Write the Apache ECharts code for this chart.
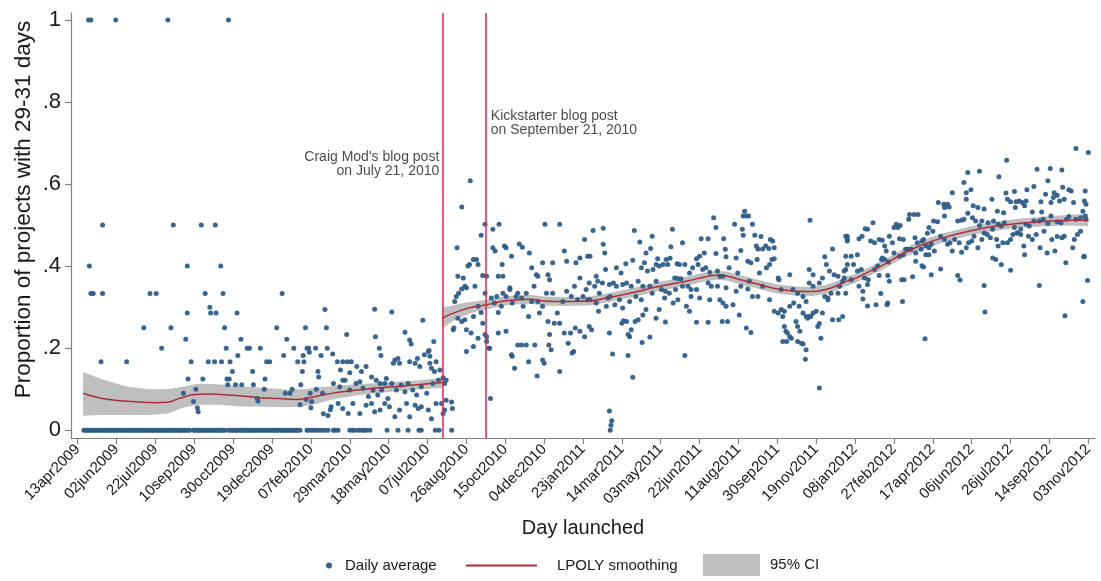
<!DOCTYPE html>
<html><head><meta charset="utf-8">
<script src="https://cdn.jsdelivr.net/npm/echarts@6/dist/echarts.min.js"></script>
<style>html,body{margin:0;padding:0;background:#fff}#c{width:1101px;height:581px}</style>
</head><body><div id="c"></div>
<script>
// x values are days since 13apr2009
const tickDays = [0,50,100,150,200,250,300,350,400,450,500,550,600,650,700,750,800,850,900,950,1000,1050,1100,1150,1200,1250,1300];
const tickLabels = ['13apr2009','02jun2009','22jul2009','10sep2009','30oct2009','19dec2009','07feb2010','29mar2010','18may2010','07jul2010','26aug2010','15oct2010','04dec2010','23jan2011','14mar2011','03may2011','22jun2011','11aug2011','30sep2011','19nov2011','08jan2012','27feb2012','17apr2012','06jun2012','26jul2012','14sep2012','03nov2012'];
const yTicks = [0,0.2,0.4,0.6,0.8,1];
const yTickLabels = ['0','.2','.4','.6','.8','1'];
const craigDay = 469;
const kickDay = 525;

const onesDays = [14,17,49,116,194];
const zeroDays = [8,10,12,15,17,19,22,24,27,29,31,34,36,38,41,43,46,48,50,53,55,58,60,62,65,67,70,72,74,77,79,82,84,86,89,91,94,96,98,101,103,106,108,110,113,115,118,120,122,125,127,130,132,134,137,139,142,144,149,151,154,156,158,161,163,166,168,170,173,175,178,180,182,185,187,189,194,197,199,202,204,206,209,211,214,216,218,221,223,226,228,230,233,235,238,240,242,245,247,250,252,254,257,259,262,264,266,269,271,274,276,278,281,283,286,295,297,301,304,307,311,314,318,322,329,331,335,350,354,356,361,365,368,371,376,398,412,425,439,442,460,465,481,685];

const dailyEarly = [[15,.4],[17,.333],[20,.333],[30,.167],[32,.5],[32,.333],[63,.167],[85,.25],[93,.333],[101,.333],[108,.2],[120,.25],[123,.5],[136,.09],[139,.222],[141,.4],[141,.286],[142,.125],[146,.167],[149,.07],[152,.1],[154,.055],[155,.045],[159,.5],[161,.125],[164,.333],[168,.167],[170,.3],[171,.286],[176,.167],[177,.5],[178,.286],[184,.4],[185,.167],[187,.333],[189,.25],[191,.2],[192,.125],[193,.111],[195,.125],[196,.167],[199,.143],[203,.111],[205,.286],[206,.182],[210,.222],[211,.111],[218,.2],[221,.2],[225,.143],[226,.111],[231,.077],[232,.071],[235,.2],[240,.1],[241,.125],[243,.167],[247,.167],[256,.25],[263,.333],[265,.182],[267,.09],[269,.222],[273,.09],[276,.1],[278,.2],[283,.167],[286,.062],[287,.111],[289,.143],[290,.182],[291,.167],[293,.25],[294,.075],[295,.2],[297,.2],[298,.19],[299,.09],[300,.055],[301,.07],[306,.2],[307,.1],[309,.143],[310,.13],[313,.182],[315,.09],[316,.04],[318,.294],[320,.25],[321,.2],[322,.036],[325,.05]];

const dailyBreak = [[346,.233],[382,.295],[404,.288],[444,.268],[383,.228],[388,.2],[390,.182],[421,.239],[427,.22],[429,.21],[458,.216],[451,.192],[453,.18],[328,.186],[334,.167],[341,.167],[347,.167],[352,.167],[338,.147],[341,.122],[350,.14],[359,.155],[365,.143],[371,.155],[378,.13],[384,.122],[389,.114],[397,.126],[408,.171],[412,.175],[406,.163],[414,.163],[427,.167],[434,.163],[437,.175],[440,.155],[446,.184],[452,.194],[453,.163],[461,.167],[455,.151],[459,.143],[466,.147],[329,.114],[337,.106],[344,.122],[350,.098],[358,.114],[363,.118],[367,.102],[374,.082],[380,.098],[386,.086],[391,.098],[395,.114],[399,.077],[404,.114],[410,.098],[416,.11],[421,.094],[425,.114],[431,.098],[436,.086],[442,.106],[449,.09],[457,.114],[464,.122],[470,.128],[472,.114],[474,.122],[326,.057],[335,.065],[341,.053],[348,.041],[354,.065],[363,.041],[371,.061],[378,.065],[382,.045],[389,.049],[395,.065],[401,.057],[408,.033],[414,.049],[423,.065],[427,.033],[434,.061],[438,.053],[442,.057],[451,.049],[455,.028],[461,.065],[468,.065],[470,.041],[472,.049],[474,.073],[481,.069],[482,.053]];

const dailyPost = [[488,.445],[494,.544],[505,.608],[524,.502],[534,.49],[542,.502],[519,.475],[509,.416],[513,.416],[515,.404],[504,.404],[489,.375],[496,.371],[500,.347],[502,.4],[511,.351],[521,.377],[524,.334],[526,.375],[534,.445],[537,.437],[541,.375],[546,.404],[547,.375],[549,.449],[551,.445],[558,.424],[556,.347],[568,.454],[572,.446],[581,.432],[584,.396],[590,.379],[592,.375],[598,.408],[601,.502],[605,.379],[607,.367],[611,.408],[620,.502],[626,.437],[629,.412],[641,.408],[646,.42],[646,.371],[652,.465],[656,.424],[658,.359],
[485,.314],[487,.326],[490,.334],[494,.344],[498,.351],[489,.273],[494,.265],[498,.269],[500,.245],[506,.237],[509,.277],[515,.302],[519,.287],[521,.261],[524,.233],[526,.216],[529,.2],[532,.322],[536,.31],[539,.326],[541,.287],[545,.302],[547,.334],[551,.326],[556,.343],[559,.31],[564,.326],[566,.334],[571,.322],[573,.302],[577,.334],[580,.277],[584,.314],[587,.351],[592,.314],[594,.286],[598,.302],[603,.334],[605,.265],[607,.233],[611,.334],[617,.286],[620,.261],[624,.314],[629,.339],[635,.326],[639,.351],[643,.318],[650,.326],[654,.343],[656,.318],[658,.253],
[483,.245],[484,.249],[500,.192],[509,.204],[515,.224],[526,.228],[530,.2],[541,.237],[551,.241],[558,.184],[559,.18],[562,.151],[566,.208],[571,.208],[577,.208],[580,.167],[588,.208],[591,.132],[598,.171],[600,.163],[606,.208],[609,.196],[613,.261],[620,.143],[626,.237],[631,.212],[634,.237],[636,.188],[638,.192],[640,.249],[646,.241],[652,.228],[531,.077]];

const dailyMid = [[858,.534],[856,.522],[860,.522],[863,.522],[868,.502],[818,.518],[821,.494],[845,.502],[855,.49],[942,.512],[676,.492],[663,.487],[716,.487],[765,.49],[723,.459],[739,.473],[737,.443],[763,.447],[778,.457],[802,.467],[811,.467],[831,.467],[856,.475],[871,.475],[879,.472],[891,.465],[894,.461],[896,.445],[885,.449],[873,.449],[875,.442],[881,.442],[889,.443],[971,.442],[988,.473],[990,.465],[659,.424],[678,.432],[676,.453],[731,.432],[746,.418],[757,.416],[762,.419],[771,.406],[774,.404],[781,.404],[800,.424],[806,.432],[796,.418],[821,.431],[833,.441],[834,.423],[847,.42],[853,.438],[862,.412],[874,.416],[893,.416],[896,.418],[901,.371],[916,.379],[961,.423],[963,.404],[988,.424],[990,.404],[986,.388],
[667,.375],[669,.363],[679,.392],[693,.396],[699,.383],[705,.406],[714,.414],[725,.396],[729,.408],[733,.388],[740,.392],[744,.404],[748,.4],[753,.404],[759,.404],[768,.371],[772,.37],[776,.369],[787,.383],[791,.396],[798,.404],[804,.392],[808,.396],[813,.385],[823,.388],[826,.375],[830,.375],[838,.396],[849,.383],[864,.363],[866,.408],[877,.383],[886,.396],[890,.404],[902,.367],[941,.392],[946,.379],[958,.371],[967,.388],[973,.379],[978,.375],[984,.363],[980,.351],
[665,.351],[675,.359],[671,.334],[684,.355],[689,.359],[693,.351],[701,.355],[706,.359],[712,.351],[721,.363],[727,.351],[736,.351],[744,.363],[751,.343],[756,.339],[761,.334],[769,.343],[778,.351],[785,.351],[789,.343],[796,.343],[811,.359],[815,.351],[823,.351],[834,.347],[847,.339],[853,.351],[862,.344],[868,.326],[875,.326],[881,.351],[890,.318],[905,.343],[920,.343],[926,.334],[933,.326],[937,.314],[941,.359],[946,.351],[954,.359],[961,.326],[965,.322],[969,.334],[978,.334],[988,.334],
[659,.318],[667,.31],[670,.29],[680,.302],[682,.322],[685,.326],[691,.306],[697,.318],[701,.298],[710,.314],[718,.326],[725,.318],[731,.294],[739,.334],[748,.294],[755,.322],[766,.31],[772,.318],[783,.302],[787,.29],[789,.326],[800,.322],[813,.318],[826,.318],[830,.31],[834,.302],[843,.306],[851,.281],[896,.29],[901,.286],[905,.294],[907,.277],[909,.29],[916,.302],[921,.31],[928,.302],[933,.286],[937,.277],[941,.277],[946,.286],[950,.29],[958,.286],[965,.318],[971,.269],[979,.269],[984,.277],
[661,.245],[684,.237],[700,.261],[702,.267],[706,.265],[710,.228],[708,.233],[712,.245],[717,.265],[721,.269],[727,.281],[744,.273],[756,.264],[796,.263],[811,.263],[829,.265],[836,.265],[860,.249],[866,.238],[909,.253],[911,.241],[913,.237],[916,.228],[907,.216],[912,.216],[918,.224],[924,.265],[926,.253],[929,.241],[939,.273],[943,.277],[954,.26],[952,.253],[956,.224],[926,.216],[931,.212],[933,.21],
[688,.186],[708,.182],[726,.214],[736,.227],[781,.182],[937,.196],[936,.173],[714,.129],[954,.103],[684,.047],[687,.023],[686,.012]];

const dailyLate = [[1284,.687],[1300,.677],[1195,.658],[1234,.636],[1251,.638],[1266,.634],[1160,.631],[1145,.628],[1185,.618],[1248,.608],[1140,.604],[1230,.594],[1149,.586],[1125,.579],[1143,.579],[1296,.583],[1221,.586],[1194,.578],[1205,.582],[1245,.575],[1256,.579],[1267,.592],[1275,.586],[1278,.583],[1176,.563],[1196,.563],[1200,.557],[1207,.557],[1211,.559],[1215,.555],[1220,.559],[1143,.563],[1119,.551],[1107,.555],[1114,.551],[1115,.543],[1121,.544],[1152,.547],[1158,.543],[1166,.539],[1183,.534],[1191,.53],[1206,.543],[1218,.547],[1239,.557],[1252,.555],[1255,.567],[1260,.573],[1263,.559],[1269,.563],[1281,.555],[1295,.559],[1297,.551],[1228,.532],[1240,.532],[1252,.522],[1293,.534],
[1070,.526],[1076,.526],[1081,.526],[1069,.514],[1053,.502],[1050,.494],[1055,.494],[1058,.499],[1095,.494],[1101,.51],[1106,.508],[1100,.485],[1093,.48],[1115,.522],[1132,.51],[1137,.512],[1140,.514],[1145,.529],[1151,.518],[1155,.51],[1160,.499],[1163,.51],[1171,.506],[1178,.51],[1184,.502],[1188,.498],[1192,.506],[1205,.494],[1209,.481],[1213,.49],[1220,.502],[1224,.498],[1230,.51],[1237,.51],[1242,.514],[1248,.504],[1260,.508],[1265,.506],[1272,.514],[1275,.521],[1284,.514],[1290,.518],[1297,.514],
[1023,.506],[1016,.49],[1013,.491],[1005,.467],[1009,.473],[1003,.428],[995,.424],[990,.473],[990,.461],[998,.404],[988,.392],[1020,.461],[1025,.457],[1031,.465],[1035,.463],[1038,.449],[1040,.437],[1044,.473],[1048,.457],[1057,.467],[1062,.465],[1065,.441],[1072,.441],[1077,.469],[1080,.457],[1086,.461],[1088,.465],[1091,.449],[1095,.445],[1098,.453],[1110,.473],[1115,.465],[1119,.453],[1122,.457],[1125,.437],[1128,.465],[1134,.457],[1137,.434],[1143,.445],[1146,.457],[1150,.461],[1153,.473],[1158,.445],[1163,.465],[1166,.481],[1170,.477],[1174,.469],[1177,.49],[1182,.465],[1184,.449],[1190,.457],[1196,.457],[1200,.465],[1203,.477],[1208,.481],[1213,.477],[1217,.449],[1218,.428],[1223,.473],[1228,.465],[1233,.477],[1238,.445],[1243,.485],[1247,.432],[1253,.465],[1257,.437],[1260,.472],[1266,.469],[1269,.473],[1280,.445],[1282,.465],[1286,.477],[1290,.485],[1295,.424],[1296,.522],
[986,.371],[995,.367],[1003,.388],[1008,.392],[1012,.371],[1017,.367],[1005,.351],[1010,.339],[1016,.355],[1025,.392],[1029,.4],[1034,.416],[1035,.42],[1038,.416],[1043,.41],[1050,.432],[1057,.424],[1062,.428],[1068,.441],[1078,.432],[1085,.441],[1091,.428],[1095,.428],[1102,.437],[1078,.412],[1086,.401],[1088,.398],[1098,.379],[1110,.393],[1042,.377],[1031,.377],[1044,.363],[1060,.367],[1063,.367],[1074,.374],[1033,.333],[1042,.31],[1041,.306],[1027,.306],[1016,.303],[1010,.32],[1061,.314],[1132,.377],[1135,.366],[1166,.353],[1188,.404],[1181,.416],[1177,.42],[1200,.39],[1237,.353],[1271,.408],[1294,.423],[1299,.365],[1293,.314],[1270,.279],[1167,.288],[1090,.223]];

const smoothPre = [[7,.09],[30,.078],[60,.071],[100,.067],[115,.068],[130,.077],[150,.087],[170,.088],[200,.085],[230,.08],[260,.077],[280,.075],[300,.08],[330,.091],[370,.1],[420,.108],[469,.116]];
const smoothPost = [[469,.273],[480,.283],[496,.294],[510,.301],[526,.306],[545,.314],[560,.317],[581,.319],[600,.315],[624,.314],[658,.315],[680,.322],[701,.33],[720,.338],[744,.349],[765,.357],[787,.365],[805,.373],[821,.378],[835,.376],[850,.368],[873,.357],[898,.345],[924,.339],[945,.338],[962,.343],[975,.351],[990,.364],[1000,.37],[1012,.381],[1038,.405],[1063,.432],[1089,.454],[1115,.47],[1149,.486],[1179,.497],[1209,.504],[1243,.509],[1278,.512],[1300,.512]];
// [day, lower, upper]
const ciPre = [[7,.035,.142],[30,.037,.125],[60,.037,.108],[90,.037,.1],[115,.04,.1],[135,.055,.106],[155,.062,.113],[180,.062,.112],[210,.058,.107],[240,.057,.103],[270,.056,.099],[290,.058,.1],[310,.066,.104],[330,.076,.108],[360,.085,.112],[400,.093,.117],[440,.1,.122],[469,.103,.128]];
const ciPost = [[469,.247,.299],[480,.263,.303],[496,.278,.31],[510,.288,.314],[526,.294,.318],[545,.303,.325],[560,.306,.328],[581,.308,.33],[600,.304,.326],[624,.303,.325],[658,.304,.326],[680,.311,.333],[701,.319,.341],[720,.327,.349],[744,.338,.36],[765,.346,.368],[787,.354,.376],[805,.362,.384],[821,.367,.389],[835,.365,.387],[850,.357,.379],[873,.346,.368],[898,.334,.356],[924,.328,.35],[945,.327,.349],[962,.332,.354],[975,.34,.362],[990,.353,.375],[1000,.359,.381],[1012,.37,.392],[1038,.394,.416],[1063,.421,.443],[1089,.443,.465],[1115,.459,.481],[1149,.475,.497],[1179,.486,.508],[1209,.493,.515],[1243,.497,.521],[1278,.499,.525],[1300,.497,.527]];

const FONT = '"Liberation Sans", Arial, Helvetica, sans-serif';
const DOT = '#2f5d88';
const RED = '#a8303e';
const BAND = '#bfbfbf';
const VLINE = '#d9284f';

const scatterData = []
  .concat(onesDays.map(d => [d, 1]))
  .concat(zeroDays.map(d => [d, 0]))
  .concat(dailyEarly, dailyBreak, dailyPost, dailyMid, dailyLate);

function band(ci) {
  return {
    type: 'custom', name: '95% CI', silent: true, z: 1,
    itemStyle: { color: BAND },
    data: ci,
    encode: { x: 0, y: [1, 2] },
    renderItem: function (params, api) {
      if (params.dataIndex !== 0) return null;
      const up = ci.map(r => api.coord([r[0], r[2]]));
      const lo = ci.map(r => api.coord([r[0], r[1]])).reverse();
      return { type: 'polygon', shape: { points: up.concat(lo) }, style: { fill: BAND } };
    }
  };
}

function legendText(pad) {
  return { fontSize: 15, color: '#1a1a1a', fontFamily: FONT, padding: pad };
}
const chart = echarts.init(document.getElementById('c'), null, { renderer: 'canvas' });
chart.setOption({
  animation: false,
  backgroundColor: '#ffffff',
  textStyle: { fontFamily: FONT, color: '#1a1a1a' },
  grid: { left: 71, right: 6, top: 13, bottom: 143, containLabel: false },
  xAxis: {
    type: 'value', min: -8.6, max: 1308.6,
    name: 'Day launched', nameLocation: 'middle', nameGap: 80, nameMoveOverlap: false,
    nameTextStyle: { fontSize: 20, color: '#1a1a1a', fontFamily: FONT },
    axisLine: { show: true, onZero: false, lineStyle: { color: '#808080', width: 1.2 } },
    axisTick: { show: true, length: 6, customValues: tickDays, lineStyle: { color: '#808080', width: 1.2 } },
    axisLabel: {
      customValues: tickDays, rotate: 45, fontSize: 15, color: '#1a1a1a', margin: 9, fontFamily: FONT,
      formatter: v => tickLabels[tickDays.indexOf(Math.round(v))] || ''
    },
    splitLine: { show: false }
  },
  yAxis: {
    type: 'value', min: -0.019, max: 1.017,
    name: 'Proportion of projects with 29-31 days', nameLocation: 'middle', nameGap: 36, nameMoveOverlap: false,
    nameTextStyle: { fontSize: 22.5, color: '#1a1a1a', fontFamily: FONT, padding: [0, 0, 0, 32] },
    axisLine: { show: true, onZero: false, lineStyle: { color: '#808080', width: 1.2 } },
    axisTick: { show: true, length: 6, customValues: yTicks, lineStyle: { color: '#808080', width: 1.2 } },
    axisLabel: {
      customValues: yTicks, fontSize: 22, color: '#1a1a1a', margin: 10, fontFamily: FONT,
      formatter: v => yTickLabels[yTicks.findIndex(t => Math.abs(t - v) < 1e-6)] || ''
    },
    splitLine: { show: false }
  },
  legend: [
    { data: [{ name: 'Daily average', icon: 'circle' }], left: 326, top: 558, padding: 0, itemWidth: 6, itemHeight: 6,
      textStyle: legendText([0, 0, 0, 8]), selectedMode: false },
    { data: [{ name: 'LPOLY smoothing', icon: 'rect' }], left: 466, top: 558, padding: 0, itemWidth: 71, itemHeight: 2,
      textStyle: legendText([0, 0, 0, 15]), selectedMode: false },
    { data: [{ name: '95% CI', icon: 'rect' }], left: 703, top: 554, padding: 0, itemWidth: 57, itemHeight: 22,
      textStyle: legendText([0, 0, 0, 5]), selectedMode: false }
  ],
  series: [
    band(ciPre),
    band(ciPost),
    {
      type: 'scatter', name: 'Daily average', z: 3, symbol: 'circle', symbolSize: 5,
      itemStyle: { color: DOT, opacity: 0.95 }, data: scatterData, silent: true
    },
    {
      type: 'line', name: 'LPOLY smoothing', z: 4, data: smoothPre, smooth: 0.4, showSymbol: false,
      lineStyle: { color: RED, width: 1.5 }, itemStyle: { color: RED }, silent: true
    },
    {
      type: 'line', name: 'LPOLY smoothing', z: 4, data: smoothPost, smooth: 0.4, showSymbol: false,
      lineStyle: { color: RED, width: 1.5 }, itemStyle: { color: RED }, silent: true
    },
    {
      type: 'scatter', name: 'annotations', z: 5, symbolSize: 0, silent: true,
      data: [
        { value: [craigDay, 0.649], label: { show: true, position: 'left', distance: 3, align: 'right',
          formatter: "Craig Mod's blog post\non July 21, 2010" } },
        { value: [kickDay, 0.749], label: { show: true, position: 'right', distance: 5, align: 'left',
          formatter: 'Kickstarter blog post\non September 21, 2010' } }
      ],
      label: { fontSize: 14, lineHeight: 13.5, color: '#1a1a1a', fontFamily: FONT },
      markLine: {
        symbol: 'none', silent: true, label: { show: false },
        lineStyle: { color: VLINE, width: 1.5, type: 'solid' },
        data: [{ xAxis: craigDay }, { xAxis: kickDay }]
      }
    }
  ]
});
</script></body></html>
